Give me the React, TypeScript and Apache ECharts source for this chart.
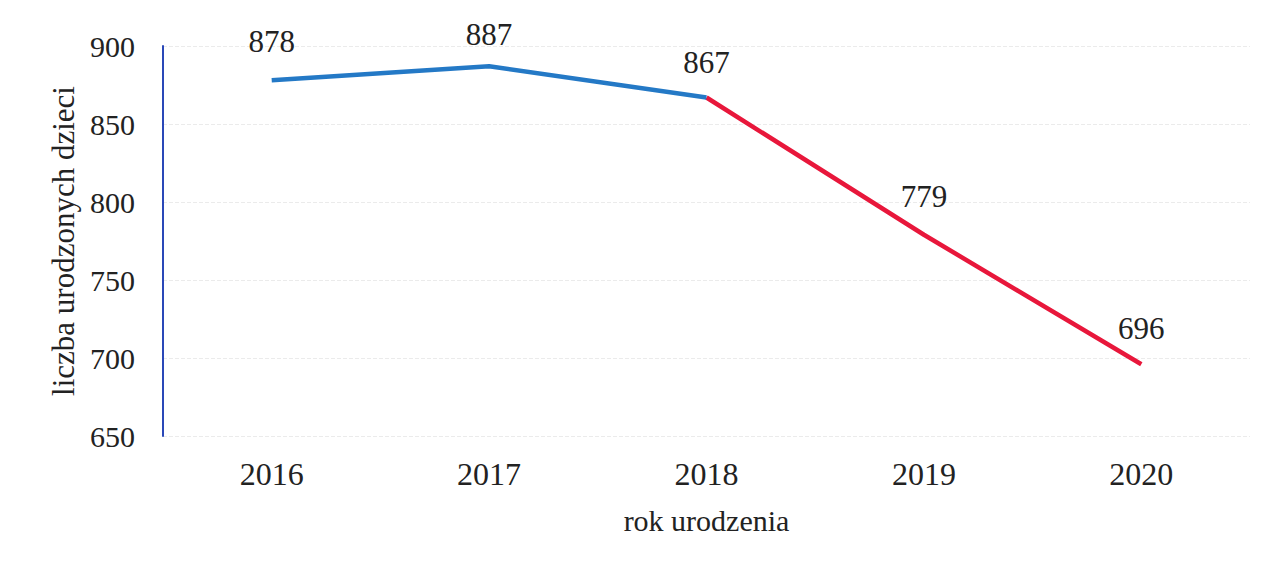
import React, { useEffect, useRef } from "react";
import * as echarts from "echarts";

const years = ["2016", "2017", "2018", "2019", "2020"];
const births = [878, 887, 867, 779, 696];
const labelDistances = [23, 16, 19, 23, 20];
const splitIndex = 2;
const yTicks = { min: 650, max: 900, interval: 50 };

const BLUE = "#2479c6";
const RED = "#e8173b";
const FONT = "'Liberation Serif', 'DejaVu Serif', 'Times New Roman', serif";

export default function App() {
  const ref = useRef<HTMLDivElement>(null);
  useEffect(() => {
    if (!ref.current) return;
    const chart = echarts.init(ref.current, null, { renderer: "svg" });
    const blueData = births.map((v, i) =>
      i <= splitIndex
        ? { value: v, label: { show: true, distance: labelDistances[i] } }
        : { value: null, label: { show: false } }
    );
    const redData = births.map((v, i) =>
      i >= splitIndex
        ? { value: v, label: { show: i > splitIndex, distance: labelDistances[i] } }
        : { value: null, label: { show: false } }
    );
    const labelStyle = {
      show: true,
      position: "top" as const,
      fontFamily: FONT,
      fontSize: 31,
      color: "#222",
    };
    chart.setOption({
      animation: false,
      backgroundColor: "#fff",
      grid: { left: 155, right: 6, top: 38, bottom: 118 },
      xAxis: {
        type: "category",
        data: years,
        boundaryGap: true,
        axisLine: { show: false },
        axisTick: { show: false },
        axisLabel: {
          fontFamily: FONT,
          fontSize: 32,
          color: "#222",
          margin: 22,
        },
        name: "rok urodzenia",
        nameLocation: "middle",
        nameGap: 69,
        nameTextStyle: { fontFamily: FONT, fontSize: 30, color: "#222" },
      },
      yAxis: {
        type: "value",
        min: yTicks.min,
        max: yTicks.max,
        interval: yTicks.interval,
        axisLine: { show: true, lineStyle: { color: "#2a48b8", width: 2 } },
        axisTick: { show: false },
        axisLabel: {
          fontFamily: FONT,
          fontSize: 30,
          color: "#222",
          margin: 28,
        },
        splitLine: {
          show: true,
          lineStyle: { color: "#ebebeb", type: "dashed", width: 1 },
        },
        name: "liczba urodzonych dzieci",
        nameLocation: "middle",
        nameGap: 84,
        nameRotate: 90,
        nameTextStyle: { fontFamily: FONT, fontSize: 31, color: "#222" },
      },
      series: [
        {
          type: "line",
          data: blueData,
          symbol: "circle",
          symbolSize: 0,
          showSymbol: true,
          connectNulls: false,
          lineStyle: { color: BLUE, width: 4.5 },
          itemStyle: { color: BLUE },
          label: labelStyle,
          z: 3,
        },
        {
          type: "line",
          data: redData,
          symbol: "circle",
          symbolSize: 0,
          showSymbol: true,
          connectNulls: false,
          lineStyle: { color: RED, width: 4.5 },
          itemStyle: { color: RED },
          label: labelStyle,
          z: 2,
        },
      ],
    });
    return () => chart.dispose();
  }, []);
  return <div ref={ref} style={{ width: 1248, height: 546 }} />;
}
